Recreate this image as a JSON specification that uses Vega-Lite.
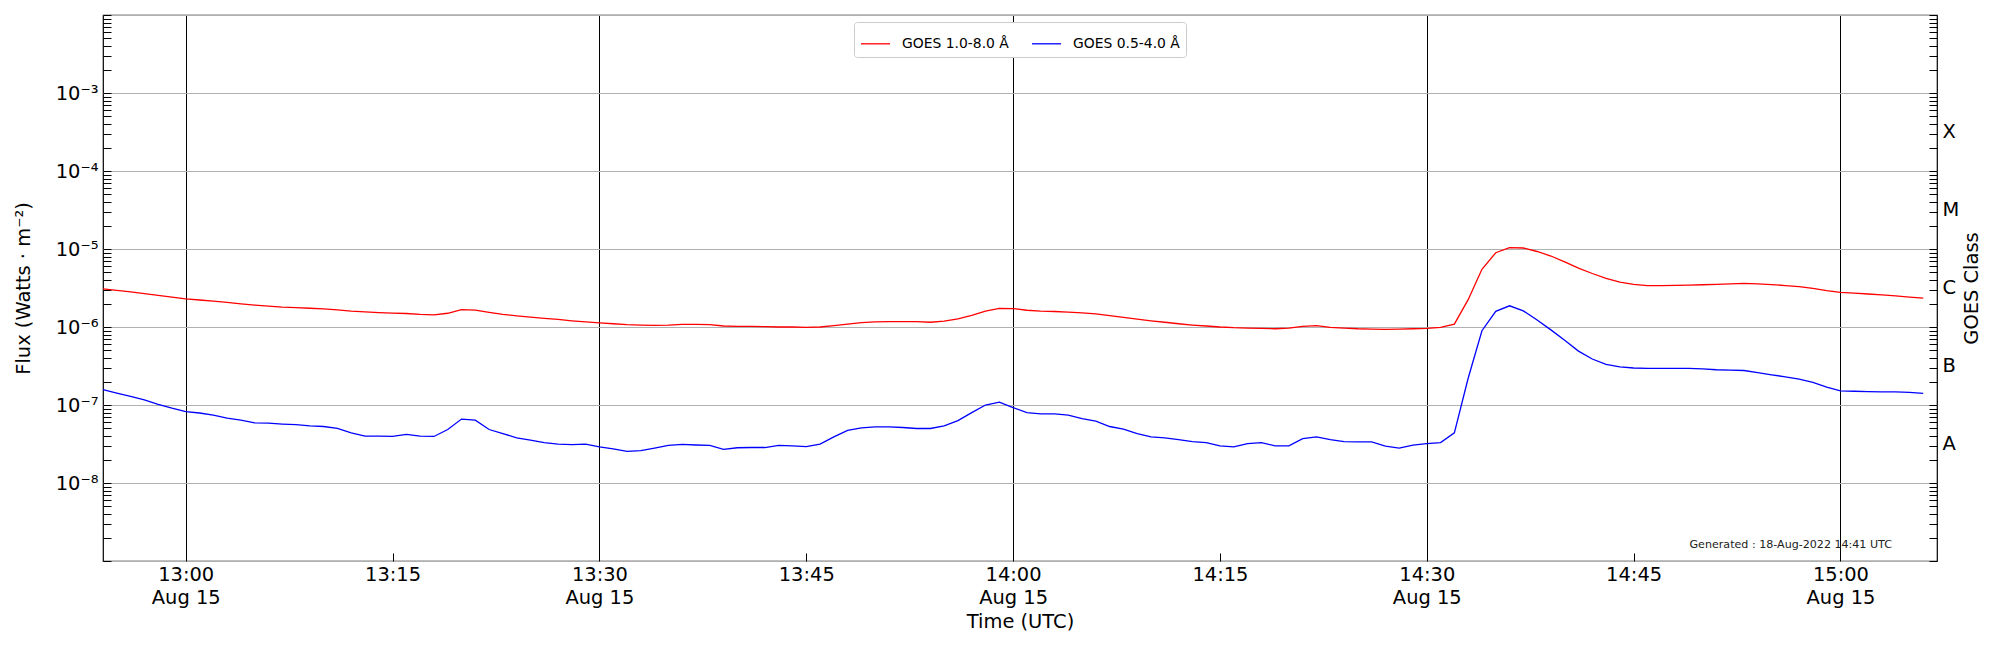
{
  "$schema": "https://vega.github.io/schema/vega-lite/v6.json",
  "description": "GOES X-ray flux, 15 Aug 2022",
  "width": 1834,
  "height": 546,
  "autosize": {"type": "none"},
  "padding": {"left": 103, "top": 15, "right": 63, "bottom": 89},
  "config": {
    "font": "DejaVu Sans",
    "view": {"stroke": "black", "strokeWidth": 1.2},
    "axis": {
      "domain": false,
      "tickColor": "black",
      "tickWidth": 1,
      "tickSize": -8,
      "labelColor": "black",
      "labelFont": "DejaVu Sans",
      "labelFontSize": 19.44,
      "titleFont": "DejaVu Sans",
      "titleFontSize": 19.44,
      "titleFontWeight": "normal",
      "titleColor": "black",
      "labelOverlap": false,
      "labelFlush": false,
      "labelBound": false
    }
  },
  "data": {
    "values": [
      {"t": "2022-08-15T12:54:00Z", "long": 3.08e-6, "short": 1.57e-7},
      {"t": "2022-08-15T12:55:00Z", "long": 2.95e-6, "short": 1.42e-7},
      {"t": "2022-08-15T12:56:00Z", "long": 2.82e-6, "short": 1.29e-7},
      {"t": "2022-08-15T12:57:00Z", "long": 2.68e-6, "short": 1.16e-7},
      {"t": "2022-08-15T12:58:00Z", "long": 2.55e-6, "short": 1.02e-7},
      {"t": "2022-08-15T12:59:00Z", "long": 2.42e-6, "short": 9.1e-8},
      {"t": "2022-08-15T13:00:00Z", "long": 2.30e-6, "short": 8.2e-8},
      {"t": "2022-08-15T13:01:00Z", "long": 2.22e-6, "short": 7.9e-8},
      {"t": "2022-08-15T13:02:00Z", "long": 2.15e-6, "short": 7.4e-8},
      {"t": "2022-08-15T13:03:00Z", "long": 2.07e-6, "short": 6.8e-8},
      {"t": "2022-08-15T13:04:00Z", "long": 1.98e-6, "short": 6.4e-8},
      {"t": "2022-08-15T13:05:00Z", "long": 1.91e-6, "short": 5.9e-8},
      {"t": "2022-08-15T13:06:00Z", "long": 1.85e-6, "short": 5.85e-8},
      {"t": "2022-08-15T13:07:00Z", "long": 1.80e-6, "short": 5.7e-8},
      {"t": "2022-08-15T13:08:00Z", "long": 1.77e-6, "short": 5.6e-8},
      {"t": "2022-08-15T13:09:00Z", "long": 1.74e-6, "short": 5.4e-8},
      {"t": "2022-08-15T13:10:00Z", "long": 1.71e-6, "short": 5.3e-8},
      {"t": "2022-08-15T13:11:00Z", "long": 1.66e-6, "short": 5.0e-8},
      {"t": "2022-08-15T13:12:00Z", "long": 1.60e-6, "short": 4.4e-8},
      {"t": "2022-08-15T13:13:00Z", "long": 1.56e-6, "short": 4.0e-8},
      {"t": "2022-08-15T13:14:00Z", "long": 1.53e-6, "short": 4.0e-8},
      {"t": "2022-08-15T13:15:00Z", "long": 1.51e-6, "short": 3.95e-8},
      {"t": "2022-08-15T13:16:00Z", "long": 1.49e-6, "short": 4.2e-8},
      {"t": "2022-08-15T13:17:00Z", "long": 1.45e-6, "short": 4.0e-8},
      {"t": "2022-08-15T13:18:00Z", "long": 1.43e-6, "short": 3.95e-8},
      {"t": "2022-08-15T13:19:00Z", "long": 1.50e-6, "short": 4.85e-8},
      {"t": "2022-08-15T13:20:00Z", "long": 1.67e-6, "short": 6.6e-8},
      {"t": "2022-08-15T13:21:00Z", "long": 1.65e-6, "short": 6.4e-8},
      {"t": "2022-08-15T13:22:00Z", "long": 1.54e-6, "short": 4.85e-8},
      {"t": "2022-08-15T13:23:00Z", "long": 1.45e-6, "short": 4.3e-8},
      {"t": "2022-08-15T13:24:00Z", "long": 1.39e-6, "short": 3.8e-8},
      {"t": "2022-08-15T13:25:00Z", "long": 1.34e-6, "short": 3.55e-8},
      {"t": "2022-08-15T13:26:00Z", "long": 1.29e-6, "short": 3.3e-8},
      {"t": "2022-08-15T13:27:00Z", "long": 1.25e-6, "short": 3.15e-8},
      {"t": "2022-08-15T13:28:00Z", "long": 1.20e-6, "short": 3.1e-8},
      {"t": "2022-08-15T13:29:00Z", "long": 1.16e-6, "short": 3.15e-8},
      {"t": "2022-08-15T13:30:00Z", "long": 1.13e-6, "short": 2.9e-8},
      {"t": "2022-08-15T13:31:00Z", "long": 1.10e-6, "short": 2.73e-8},
      {"t": "2022-08-15T13:32:00Z", "long": 1.07e-6, "short": 2.55e-8},
      {"t": "2022-08-15T13:33:00Z", "long": 1.06e-6, "short": 2.6e-8},
      {"t": "2022-08-15T13:34:00Z", "long": 1.05e-6, "short": 2.8e-8},
      {"t": "2022-08-15T13:35:00Z", "long": 1.06e-6, "short": 3.03e-8},
      {"t": "2022-08-15T13:36:00Z", "long": 1.08e-6, "short": 3.13e-8},
      {"t": "2022-08-15T13:37:00Z", "long": 1.08e-6, "short": 3.07e-8},
      {"t": "2022-08-15T13:38:00Z", "long": 1.07e-6, "short": 3.03e-8},
      {"t": "2022-08-15T13:39:00Z", "long": 1.03e-6, "short": 2.7e-8},
      {"t": "2022-08-15T13:40:00Z", "long": 1.02e-6, "short": 2.83e-8},
      {"t": "2022-08-15T13:41:00Z", "long": 1.02e-6, "short": 2.85e-8},
      {"t": "2022-08-15T13:42:00Z", "long": 1.01e-6, "short": 2.85e-8},
      {"t": "2022-08-15T13:43:00Z", "long": 1.00e-6, "short": 3.04e-8},
      {"t": "2022-08-15T13:44:00Z", "long": 1.00e-6, "short": 3.0e-8},
      {"t": "2022-08-15T13:45:00Z", "long": 0.99e-6, "short": 2.93e-8},
      {"t": "2022-08-15T13:46:00Z", "long": 1.00e-6, "short": 3.16e-8},
      {"t": "2022-08-15T13:47:00Z", "long": 1.04e-6, "short": 3.9e-8},
      {"t": "2022-08-15T13:48:00Z", "long": 1.09e-6, "short": 4.73e-8},
      {"t": "2022-08-15T13:49:00Z", "long": 1.14e-6, "short": 5.1e-8},
      {"t": "2022-08-15T13:50:00Z", "long": 1.16e-6, "short": 5.25e-8},
      {"t": "2022-08-15T13:51:00Z", "long": 1.17e-6, "short": 5.25e-8},
      {"t": "2022-08-15T13:52:00Z", "long": 1.17e-6, "short": 5.15e-8},
      {"t": "2022-08-15T13:53:00Z", "long": 1.17e-6, "short": 5.0e-8},
      {"t": "2022-08-15T13:54:00Z", "long": 1.15e-6, "short": 5.0e-8},
      {"t": "2022-08-15T13:55:00Z", "long": 1.19e-6, "short": 5.4e-8},
      {"t": "2022-08-15T13:56:00Z", "long": 1.27e-6, "short": 6.3e-8},
      {"t": "2022-08-15T13:57:00Z", "long": 1.41e-6, "short": 7.98e-8},
      {"t": "2022-08-15T13:58:00Z", "long": 1.60e-6, "short": 1.0e-7},
      {"t": "2022-08-15T13:59:00Z", "long": 1.73e-6, "short": 1.09e-7},
      {"t": "2022-08-15T14:00:00Z", "long": 1.72e-6, "short": 9.25e-8},
      {"t": "2022-08-15T14:01:00Z", "long": 1.64e-6, "short": 8.0e-8},
      {"t": "2022-08-15T14:02:00Z", "long": 1.60e-6, "short": 7.7e-8},
      {"t": "2022-08-15T14:03:00Z", "long": 1.58e-6, "short": 7.7e-8},
      {"t": "2022-08-15T14:04:00Z", "long": 1.55e-6, "short": 7.4e-8},
      {"t": "2022-08-15T14:05:00Z", "long": 1.52e-6, "short": 6.7e-8},
      {"t": "2022-08-15T14:06:00Z", "long": 1.47e-6, "short": 6.2e-8},
      {"t": "2022-08-15T14:07:00Z", "long": 1.40e-6, "short": 5.3e-8},
      {"t": "2022-08-15T14:08:00Z", "long": 1.33e-6, "short": 4.9e-8},
      {"t": "2022-08-15T14:09:00Z", "long": 1.26e-6, "short": 4.3e-8},
      {"t": "2022-08-15T14:10:00Z", "long": 1.20e-6, "short": 3.9e-8},
      {"t": "2022-08-15T14:11:00Z", "long": 1.15e-6, "short": 3.8e-8},
      {"t": "2022-08-15T14:12:00Z", "long": 1.10e-6, "short": 3.6e-8},
      {"t": "2022-08-15T14:13:00Z", "long": 1.06e-6, "short": 3.4e-8},
      {"t": "2022-08-15T14:14:00Z", "long": 1.03e-6, "short": 3.3e-8},
      {"t": "2022-08-15T14:15:00Z", "long": 1.00e-6, "short": 3.0e-8},
      {"t": "2022-08-15T14:16:00Z", "long": 0.98e-6, "short": 2.9e-8},
      {"t": "2022-08-15T14:17:00Z", "long": 0.97e-6, "short": 3.2e-8},
      {"t": "2022-08-15T14:18:00Z", "long": 0.96e-6, "short": 3.3e-8},
      {"t": "2022-08-15T14:19:00Z", "long": 0.95e-6, "short": 3.0e-8},
      {"t": "2022-08-15T14:20:00Z", "long": 0.97e-6, "short": 3.0e-8},
      {"t": "2022-08-15T14:21:00Z", "long": 1.02e-6, "short": 3.7e-8},
      {"t": "2022-08-15T14:22:00Z", "long": 1.04e-6, "short": 3.9e-8},
      {"t": "2022-08-15T14:23:00Z", "long": 0.99e-6, "short": 3.6e-8},
      {"t": "2022-08-15T14:24:00Z", "long": 0.97e-6, "short": 3.4e-8},
      {"t": "2022-08-15T14:25:00Z", "long": 0.95e-6, "short": 3.36e-8},
      {"t": "2022-08-15T14:26:00Z", "long": 0.94e-6, "short": 3.36e-8},
      {"t": "2022-08-15T14:27:00Z", "long": 0.93e-6, "short": 2.97e-8},
      {"t": "2022-08-15T14:28:00Z", "long": 0.94e-6, "short": 2.8e-8},
      {"t": "2022-08-15T14:29:00Z", "long": 0.95e-6, "short": 3.05e-8},
      {"t": "2022-08-15T14:30:00Z", "long": 0.96e-6, "short": 3.2e-8},
      {"t": "2022-08-15T14:31:00Z", "long": 0.99e-6, "short": 3.3e-8},
      {"t": "2022-08-15T14:32:00Z", "long": 1.09e-6, "short": 4.4e-8},
      {"t": "2022-08-15T14:33:00Z", "long": 2.24e-6, "short": 2.2e-7},
      {"t": "2022-08-15T14:34:00Z", "long": 5.5e-6, "short": 8.96e-7},
      {"t": "2022-08-15T14:35:00Z", "long": 8.95e-6, "short": 1.59e-6},
      {"t": "2022-08-15T14:36:00Z", "long": 1.04e-5, "short": 1.87e-6},
      {"t": "2022-08-15T14:37:00Z", "long": 1.03e-5, "short": 1.61e-6},
      {"t": "2022-08-15T14:38:00Z", "long": 9.29e-6, "short": 1.23e-6},
      {"t": "2022-08-15T14:39:00Z", "long": 8.13e-6, "short": 9.18e-7},
      {"t": "2022-08-15T14:40:00Z", "long": 6.84e-6, "short": 6.76e-7},
      {"t": "2022-08-15T14:41:00Z", "long": 5.69e-6, "short": 4.91e-7},
      {"t": "2022-08-15T14:42:00Z", "long": 4.85e-6, "short": 3.89e-7},
      {"t": "2022-08-15T14:43:00Z", "long": 4.19e-6, "short": 3.32e-7},
      {"t": "2022-08-15T14:44:00Z", "long": 3.75e-6, "short": 3.08e-7},
      {"t": "2022-08-15T14:45:00Z", "long": 3.53e-6, "short": 2.98e-7},
      {"t": "2022-08-15T14:46:00Z", "long": 3.40e-6, "short": 2.95e-7},
      {"t": "2022-08-15T14:47:00Z", "long": 3.40e-6, "short": 2.94e-7},
      {"t": "2022-08-15T14:48:00Z", "long": 3.42e-6, "short": 2.94e-7},
      {"t": "2022-08-15T14:49:00Z", "long": 3.45e-6, "short": 2.94e-7},
      {"t": "2022-08-15T14:50:00Z", "long": 3.48e-6, "short": 2.90e-7},
      {"t": "2022-08-15T14:51:00Z", "long": 3.52e-6, "short": 2.83e-7},
      {"t": "2022-08-15T14:52:00Z", "long": 3.58e-6, "short": 2.80e-7},
      {"t": "2022-08-15T14:53:00Z", "long": 3.62e-6, "short": 2.77e-7},
      {"t": "2022-08-15T14:54:00Z", "long": 3.58e-6, "short": 2.60e-7},
      {"t": "2022-08-15T14:55:00Z", "long": 3.50e-6, "short": 2.44e-7},
      {"t": "2022-08-15T14:56:00Z", "long": 3.40e-6, "short": 2.30e-7},
      {"t": "2022-08-15T14:57:00Z", "long": 3.30e-6, "short": 2.15e-7},
      {"t": "2022-08-15T14:58:00Z", "long": 3.12e-6, "short": 1.95e-7},
      {"t": "2022-08-15T14:59:00Z", "long": 2.92e-6, "short": 1.70e-7},
      {"t": "2022-08-15T15:00:00Z", "long": 2.78e-6, "short": 1.52e-7},
      {"t": "2022-08-15T15:01:00Z", "long": 2.72e-6, "short": 1.50e-7},
      {"t": "2022-08-15T15:02:00Z", "long": 2.65e-6, "short": 1.48e-7},
      {"t": "2022-08-15T15:03:00Z", "long": 2.58e-6, "short": 1.47e-7},
      {"t": "2022-08-15T15:04:00Z", "long": 2.50e-6, "short": 1.47e-7},
      {"t": "2022-08-15T15:05:00Z", "long": 2.42e-6, "short": 1.45e-7},
      {"t": "2022-08-15T15:06:00Z", "long": 2.34e-6, "short": 1.41e-7}
    ]
  },
  "encoding": {
    "x": {
      "field": "t",
      "type": "temporal",
      "scale": {
        "type": "utc",
        "domain": [
          {"year": 2022, "month": 8, "date": 15, "hours": 12, "minutes": 54, "utc": true},
          {"year": 2022, "month": 8, "date": 15, "hours": 15, "minutes": 7, "utc": true}
        ]
      },
      "axis": {
        "title": "Time (UTC)",
        "values": [
          {"year": 2022, "month": 8, "date": 15, "hours": 13, "minutes": 0, "utc": true},
          {"year": 2022, "month": 8, "date": 15, "hours": 13, "minutes": 15, "utc": true},
          {"year": 2022, "month": 8, "date": 15, "hours": 13, "minutes": 30, "utc": true},
          {"year": 2022, "month": 8, "date": 15, "hours": 13, "minutes": 45, "utc": true},
          {"year": 2022, "month": 8, "date": 15, "hours": 14, "minutes": 0, "utc": true},
          {"year": 2022, "month": 8, "date": 15, "hours": 14, "minutes": 15, "utc": true},
          {"year": 2022, "month": 8, "date": 15, "hours": 14, "minutes": 30, "utc": true},
          {"year": 2022, "month": 8, "date": 15, "hours": 14, "minutes": 45, "utc": true},
          {"year": 2022, "month": 8, "date": 15, "hours": 15, "minutes": 0, "utc": true}
        ],
        "labelExpr": "utcminutes(datum.value) % 30 == 0 ? [utcFormat(datum.value, '%H:%M'), utcFormat(datum.value, '%b %d')] : utcFormat(datum.value, '%H:%M')",
        "labelPadding": 12.5,
        "labelLineHeight": 23,
        "titlePadding": 6,
        "grid": true,
        "gridColor": "black",
        "gridWidth": 1,
        "gridOpacity": {"condition": {"test": "utcminutes(datum.value) % 30 == 0", "value": 1}, "value": 0}
      }
    }
  },
  "layer": [
    {
      "transform": [{"fold": ["long", "short"], "as": ["ch", "f"]}],
      "mark": {"type": "line", "strokeWidth": 1.3},
      "encoding": {
        "y": {
          "field": "f",
          "type": "quantitative",
          "scale": {"type": "log", "domain": [1e-9, 1e-2]},
          "axis": {
            "orient": "left",
            "title": "Flux (Watts · m⁻²)",
            "values": [1e-9, 2e-9, 3e-9, 4e-9, 5e-9, 6e-9, 7e-9, 8e-9, 9e-9,
                       1e-8, 2e-8, 3e-8, 4e-8, 5e-8, 6e-8, 7e-8, 8e-8, 9e-8,
                       1e-7, 2e-7, 3e-7, 4e-7, 5e-7, 6e-7, 7e-7, 8e-7, 9e-7,
                       1e-6, 2e-6, 3e-6, 4e-6, 5e-6, 6e-6, 7e-6, 8e-6, 9e-6,
                       1e-5, 2e-5, 3e-5, 4e-5, 5e-5, 6e-5, 7e-5, 8e-5, 9e-5,
                       1e-4, 2e-4, 3e-4, 4e-4, 5e-4, 6e-4, 7e-4, 8e-4, 9e-4,
                       1e-3, 2e-3, 3e-3, 4e-3, 5e-3, 6e-3, 7e-3, 8e-3, 9e-3, 1e-2],
            "labelExpr": "abs(log(datum.value) / LN10 - round(log(datum.value) / LN10)) < 0.001 ? ['', '', '', '10⁻³', '10⁻⁴', '10⁻⁵', '10⁻⁶', '10⁻⁷', '10⁻⁸', ''][round(-log(datum.value) / LN10)] : ''",
            "labelPadding": 13,
            "titlePadding": 22,
            "grid": true,
            "gridColor": "#b0b0b0",
            "gridWidth": 1,
            "gridOpacity": {"condition": {"test": "abs(log(datum.value) / LN10 - round(log(datum.value) / LN10)) < 0.001", "value": 1}, "value": 0}
          }
        },
        "color": {
          "field": "ch",
          "type": "nominal",
          "scale": {"domain": ["long", "short"], "range": ["#ff0000", "#0000ff"]},
          "legend": {
            "orient": "none",
            "legendX": 751,
            "legendY": 7,
            "direction": "horizontal",
            "title": null,
            "symbolType": "stroke",
            "symbolSize": 841,
            "symbolStrokeWidth": 1.3,
            "labelFont": "DejaVu Sans",
            "labelFontSize": 13.9,
            "labelColor": "black",
            "labelOffset": 11,
            "columnPadding": 20,
            "padding": 6,
            "strokeColor": "#cccccc",
            "fillColor": "white",
            "cornerRadius": 3,
            "labelExpr": "datum.label == 'long' ? 'GOES 1.0-8.0 Å' : 'GOES 0.5-4.0 Å'"
          }
        }
      }
    },
    {
      "data": {
        "values": [
          {"t": "2022-08-15T15:03:44Z", "f": 1.47e-9, "note": "Generated : 18-Aug-2022 14:41 UTC"}
        ]
      },
      "mark": {"type": "text", "align": "right", "baseline": "alphabetic", "fontSize": 11.1, "color": "#222222"},
      "encoding": {
        "y": {
          "field": "f",
          "type": "quantitative",
          "scale": {"type": "log", "domain": [1e-9, 1e-2]},
          "axis": {
            "orient": "right",
            "title": "GOES Class",
            "titleAngle": 270,
            "titleBaseline": "top",
            "titlePadding": 4,
            "values": [1e-9, 2e-9, 3e-9, 4e-9, 5e-9, 6e-9, 7e-9, 8e-9, 9e-9,
                       1e-8, 2e-8, 3e-8, 4e-8, 5e-8, 6e-8, 7e-8, 8e-8, 9e-8,
                       1e-7, 2e-7, 3e-7, 4e-7, 5e-7, 6e-7, 7e-7, 8e-7, 9e-7,
                       1e-6, 2e-6, 3e-6, 4e-6, 5e-6, 6e-6, 7e-6, 8e-6, 9e-6,
                       1e-5, 2e-5, 3e-5, 4e-5, 5e-5, 6e-5, 7e-5, 8e-5, 9e-5,
                       1e-4, 2e-4, 3e-4, 4e-4, 5e-4, 6e-4, 7e-4, 8e-4, 9e-4,
                       1e-3, 2e-3, 3e-3, 4e-3, 5e-3, 6e-3, 7e-3, 8e-3, 9e-3, 1e-2,
                       3.1623e-8, 3.1623e-7, 3.1623e-6, 3.1623e-5, 3.1623e-4],
            "labelExpr": "abs(log(datum.value) / LN10 - floor(log(datum.value) / LN10) - 0.5) < 0.01 ? ['A', 'B', 'C', 'M', 'X'][round(log(datum.value) / LN10 + 7.5)] : ''",
            "labelPadding": 13,
            "grid": false,
            "tickOpacity": {"condition": {"test": "abs(log(datum.value) / LN10 - floor(log(datum.value) / LN10) - 0.5) < 0.01", "value": 0}, "value": 1}
          }
        },
        "text": {"field": "note"}
      }
    }
  ],
  "resolve": {"axis": {"y": "independent"}}
}
